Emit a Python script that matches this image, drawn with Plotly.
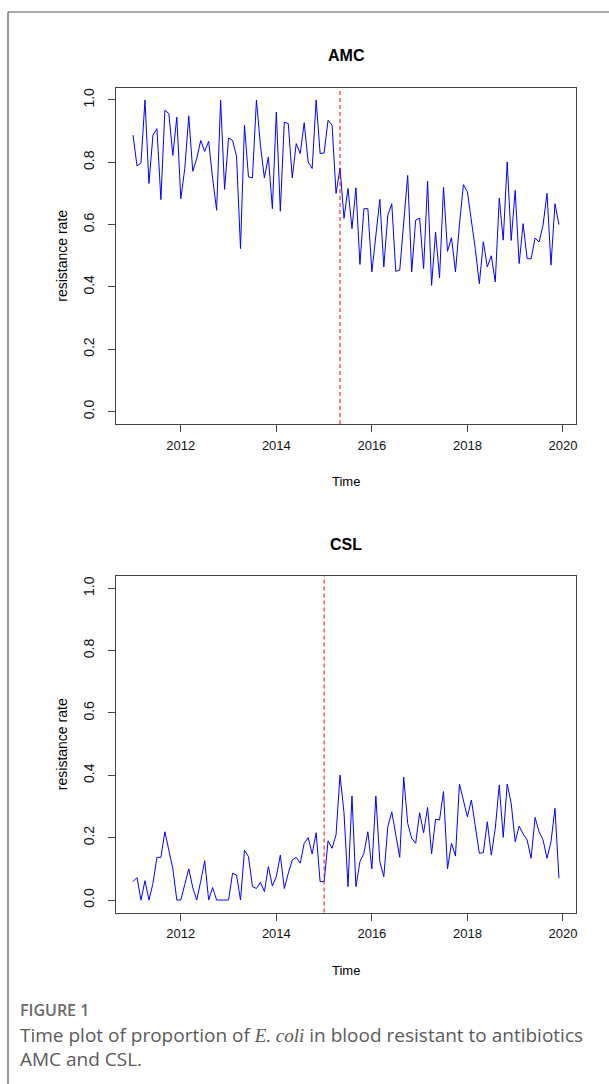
import numpy as np
import plotly.graph_objects as go

# ---------------- data ----------------
start_year = 2011
n_months = 108

amc_rate = [0.887, 0.788, 0.798, 1.0, 0.732, 0.887, 0.908, 0.68, 0.967, 0.956,
            0.822, 0.945, 0.683, 0.78, 0.949, 0.771, 0.812, 0.87, 0.835, 0.867,
            0.748, 0.646, 1.0, 0.713, 0.878, 0.87, 0.82, 0.523, 0.919, 0.753,
            0.75, 1.0, 0.855, 0.75, 0.817, 0.651, 0.961, 0.643, 0.929, 0.924,
            0.75, 0.86, 0.828, 0.927, 0.801, 0.78, 1.0, 0.828, 0.83, 0.935,
            0.919, 0.70, 0.782, 0.62, 0.716, 0.587, 0.718, 0.472, 0.651, 0.651,
            0.448, 0.56, 0.681, 0.464, 0.63, 0.667, 0.45, 0.454, 0.60, 0.758,
            0.448, 0.614, 0.621, 0.459, 0.739, 0.405, 0.576, 0.429, 0.72, 0.514,
            0.558, 0.448, 0.60, 0.728, 0.705, 0.62, 0.52, 0.41, 0.545, 0.464,
            0.50, 0.416, 0.685, 0.55, 0.801, 0.549, 0.71, 0.475, 0.603, 0.491,
            0.49, 0.557, 0.544, 0.598, 0.70, 0.47, 0.667, 0.60]

csl_rate = [0.059, 0.072, 0.0, 0.062, 0.0, 0.053, 0.137, 0.137, 0.219, 0.16,
            0.10, 0.0, 0.0, 0.05, 0.10, 0.04, 0.0, 0.06, 0.126, 0.0,
            0.04, 0.0, 0.0, 0.0, 0.0, 0.086, 0.08, 0.0, 0.16, 0.139,
            0.043, 0.037, 0.057, 0.027, 0.107, 0.045, 0.075, 0.144, 0.037, 0.086,
            0.128, 0.137, 0.118, 0.182, 0.20, 0.148, 0.216, 0.059, 0.059, 0.19,
            0.166, 0.209, 0.401, 0.28, 0.043, 0.334, 0.043, 0.123, 0.15, 0.219,
            0.10, 0.334, 0.123, 0.075, 0.235, 0.283, 0.209, 0.137, 0.394, 0.246,
            0.198, 0.182, 0.28, 0.216, 0.297, 0.148, 0.259, 0.257, 0.348, 0.10,
            0.182, 0.141, 0.372, 0.319, 0.267, 0.321, 0.235, 0.15, 0.152, 0.251,
            0.144, 0.23, 0.369, 0.201, 0.372, 0.31, 0.187, 0.237, 0.212, 0.193,
            0.134, 0.265, 0.219, 0.193, 0.134, 0.187, 0.294, 0.07]

panel_titles = ["AMC", "CSL"]
break_points = [2015 + 4 / 12, 2015.0]
x_ticks = [2012, 2014, 2016, 2018, 2020]
y_ticks = [0.0, 0.2, 0.4, 0.6, 0.8, 1.0]
y_tick_text = ["0.0", "0.2", "0.4", "0.6", "0.8", "1.0"]

time = start_year + np.arange(n_months) / 12.0

# ---------------- layout helpers ----------------
W, H = 609, 1084
def fx(p):
    return p / W
def fy(p):
    return 1 - p / H

box_left, box_right = 116, 576
panels = [(87.5, 424.0), (575.8, 912.5)]  # top, bottom in px

x_rng = [time[0] - 0.04 * (time[-1] - time[0]), time[-1] + 0.04 * (time[-1] - time[0])]
y_rng = [-0.04, 1.04]

axis_color = "#444444"
tick_font = dict(family="Liberation Sans, Arial, sans-serif", size=13, color="#111111")
ytick_font = dict(family="Liberation Sans, Arial, sans-serif", size=14, color="#111111")

fig = go.Figure()
series = [amc_rate, csl_rate]
layout_axes = {}
shapes = []
annotations = []
for k, (vals, title, bp) in enumerate(zip(series, panel_titles, break_points)):
    xa = "x" if k == 0 else f"x{k+1}"
    ya = "y" if k == 0 else f"y{k+1}"
    fig.add_trace(go.Scatter(x=time, y=vals, mode="lines",
                             line=dict(color="#0000ff", width=1),
                             xaxis=xa, yaxis=ya, showlegend=False,
                             hoverinfo="skip"))
    top, bot = panels[k]
    xkey = "xaxis" if k == 0 else f"xaxis{k+1}"
    ykey = "yaxis" if k == 0 else f"yaxis{k+1}"
    layout_axes[xkey] = dict(domain=[fx(box_left), fx(box_right)], range=x_rng,
                             anchor=ya, showline=True, mirror=True, linecolor=axis_color,
                             linewidth=1, ticks="outside", ticklen=7, tickcolor=axis_color,
                             tickvals=x_ticks, showgrid=False, zeroline=False,
                             tickfont=tick_font, ticklabelstandoff=2)
    layout_axes[ykey] = dict(domain=[fy(bot), fy(top)], range=y_rng,
                             anchor=xa, showline=True, mirror=True, linecolor=axis_color,
                             linewidth=1, ticks="outside", ticklen=7, tickcolor=axis_color,
                             tickvals=y_ticks, ticktext=y_tick_text, tickangle=-90,
                             showgrid=False, zeroline=False, tickfont=ytick_font,
                             ticklabelstandoff=8)
    shapes.append(dict(type="line", xref=xa, yref=f"{ya} domain", x0=bp, x1=bp, y0=0, y1=1,
                       line=dict(color="#ff0000", width=1, dash="4px,3px")))
    cx = (box_left + box_right) / 2
    annotations.append(dict(text=f"<b>{title}</b>", x=fx(cx), y=fy(top - 31.5), xref="paper",
                            yref="paper", showarrow=False, xanchor="center", yanchor="middle",
                            font=dict(family="Liberation Sans, Arial", size=16, color="#000")))
    annotations.append(dict(text="Time", x=fx(cx), y=fy(bot + 58), xref="paper",
                            yref="paper", showarrow=False, xanchor="center", yanchor="middle",
                            font=dict(family="Liberation Sans, Arial", size=13, color="#000")))
    annotations.append(dict(text="resistance rate", x=fx(62), y=fy((top + bot) / 2), xref="paper",
                            yref="paper", showarrow=False, xanchor="center", yanchor="middle",
                            textangle=-90,
                            font=dict(family="Liberation Sans, Arial", size=14, color="#000")))

# frame lines
shapes.append(dict(type="line", xref="paper", yref="paper", x0=fx(8), x1=1.0, y0=fy(12), y1=fy(12),
                   line=dict(color="#555555", width=1.2)))
shapes.append(dict(type="line", xref="paper", yref="paper", x0=fx(8), x1=fx(8), y0=fy(12), y1=0,
                   line=dict(color="#555555", width=1.2)))

# caption
annotations.append(dict(text="FIGURE 1", x=fx(18), y=fy(1010), xref="paper", yref="paper",
                        showarrow=False, xanchor="left", yanchor="middle",
                        font=dict(family="Open Sans", size=16, color="#6a6a6a", weight=600)))
annotations.append(dict(text="Time plot of proportion of <span style='font-family:Liberation Serif'><i>E. coli</i></span> in blood resistant to antibiotics",
                        x=fx(18), y=fy(1035), xref="paper", yref="paper",
                        showarrow=False, xanchor="left", yanchor="middle",
                        font=dict(family="Open Sans", size=19, color="#5a5a5a")))
annotations.append(dict(text="AMC and CSL.",
                        x=fx(18), y=fy(1059), xref="paper", yref="paper",
                        showarrow=False, xanchor="left", yanchor="middle",
                        font=dict(family="Open Sans", size=19, color="#5a5a5a")))

fig.update_layout(width=W, height=H, margin=dict(l=0, r=0, t=0, b=0),
                  paper_bgcolor="white", plot_bgcolor="white",
                  shapes=shapes, annotations=annotations, showlegend=False, **layout_axes)

fig.write_html("out.html")
